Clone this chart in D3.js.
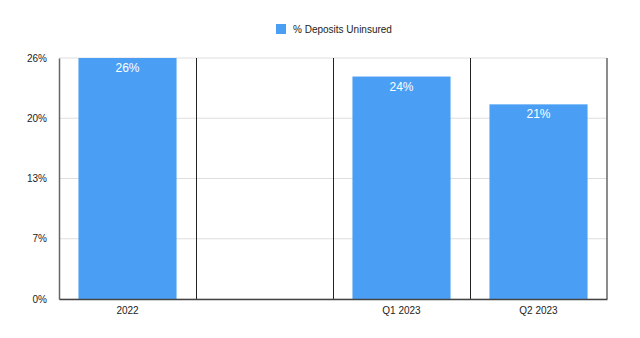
<!DOCTYPE html>
<html>
<head>
<meta charset="utf-8">
<script src="https://cdn.jsdelivr.net/npm/d3@7"></script>
<style>
  html, body { margin: 0; padding: 0; background: #fff; }
  svg { display: block; font-family: "Liberation Sans", Arial, Helvetica, sans-serif; }
</style>
</head>
<body>
<svg id="chart" width="640" height="338"></svg>
<script>
// Share of deposits that are uninsured, by period
const categories = ["2022", "", "Q1 2023", "Q2 2023"];
const uninsured = [26, null, 24, 21];
const seriesName = "% Deposits Uninsured";
const tickValues = [0, 6.5, 13, 19.5, 26];
const tickLabels = ["0%", "7%", "13%", "20%", "26%"];

const svg = d3.select("#chart");
const margin = { top: 58, right: 33, bottom: 39, left: 59 };
const width = 640 - margin.left - margin.right;
const height = 338 - margin.top - margin.bottom;
const g = svg.append("g").attr("transform", `translate(${margin.left},${margin.top})`);

const x = d3.scaleBand().domain(categories.map((c, i) => i)).range([0, width]).paddingInner(0).paddingOuter(0);
const y = d3.scaleLinear().domain([0, 26]).range([height, 0]);
const barPad = 0.142;

// horizontal gridlines
g.append("g").selectAll("line").data(tickValues).join("line")
  .attr("x1", 0).attr("x2", width)
  .attr("y1", d => y(d)).attr("y2", d => y(d))
  .attr("stroke", "#dedede").attr("stroke-width", 1);

// bars
const bw = x.bandwidth();
g.append("g").selectAll("rect").data(uninsured.map((v, i) => ({ v, i })).filter(d => d.v != null)).join("rect")
  .attr("x", d => x(d.i) + bw * barPad)
  .attr("width", bw * (1 - 2 * barPad))
  .attr("y", d => y(d.v))
  .attr("height", d => y(0) - y(d.v))
  .attr("fill", "#4a9ff5");

// value labels inside bars
g.append("g").selectAll("text").data(uninsured.map((v, i) => ({ v, i })).filter(d => d.v != null)).join("text")
  .attr("x", d => x(d.i) + bw / 2)
  .attr("y", d => y(d.v) + 14)
  .attr("text-anchor", "middle")
  .attr("fill", "#fff")
  .attr("font-size", 12)
  .text(d => d.v + "%");

// category separators
g.append("g").selectAll("line").data(categories.map((c, i) => i).slice(1)).join("line")
  .attr("x1", d => Math.round(x(d)) + 0.5).attr("x2", d => Math.round(x(d)) + 0.5)
  .attr("y1", 0).attr("y2", height)
  .attr("stroke", "#222").attr("stroke-width", 1);

// right border
g.append("line")
  .attr("x1", width).attr("x2", width).attr("y1", 0).attr("y2", height)
  .attr("stroke", "#666").attr("stroke-width", 1.5);

// left axis
const yAxis = d3.axisLeft(y).tickValues(tickValues).tickFormat((d, i) => tickLabels[i]).tickSize(0).tickPadding(12);
const ya = g.append("g").call(yAxis);
ya.select(".domain").attr("stroke", "#666").attr("stroke-width", 1.5);
ya.selectAll("text").attr("font-size", 10).attr("fill", "#222").attr("font-family", "Liberation Sans, Arial, sans-serif");

// bottom axis
const xAxis = d3.axisBottom(x).tickFormat(i => categories[i]).tickSize(0).tickPadding(8);
const xa = g.append("g").attr("transform", `translate(0,${height})`).call(xAxis);
xa.select(".domain").attr("stroke", "#444").attr("stroke-width", 1.5);
xa.selectAll("text").attr("font-size", 10).attr("fill", "#222").attr("font-family", "Liberation Sans, Arial, sans-serif");

// legend
const lg = svg.append("g").attr("transform", "translate(276,24)");
lg.append("rect").attr("width", 10).attr("height", 10).attr("fill", "#4a9ff5");
lg.append("text").attr("x", 17).attr("y", 5).attr("dy", "0.35em")
  .attr("font-size", 10).attr("fill", "#222").text(seriesName);
</script>
</body>
</html>
